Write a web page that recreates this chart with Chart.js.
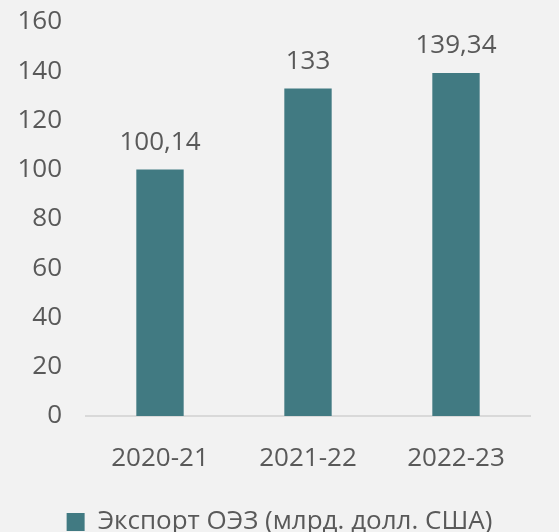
<!DOCTYPE html>
<html><head><meta charset="utf-8">
<script src="https://cdn.jsdelivr.net/npm/chart.js@4"></script>
<style>html,body{margin:0;padding:0;background:#F2F2F2;}#wrap{width:559px;height:532px;}</style>
</head><body><div id="wrap"><canvas id="c" width="559" height="532"></canvas></div>
<script>
const categories = ["2020-21", "2021-22", "2022-23"];
const exportValues = [100.14, 133, 139.34];
const valueLabels = ["100,14", "133", "139,34"];
const seriesName = "Экспорт ОЭЗ (млрд. долл. США)";
const yTicks = [0, 20, 40, 60, 80, 100, 120, 140, 160];

const FONT = "'Open Sans', sans-serif";
const FS = 26;
const TXT = "#595959";
const BAR = "#417A82";

const labelPlugin = {
  id: 'vlabels',
  afterDatasetsDraw(chart) {
    const ctx = chart.ctx;
    const meta = chart.getDatasetMeta(0);
    ctx.save();
    ctx.font = FS + "px " + FONT;
    ctx.fillStyle = TXT;
    ctx.textAlign = "center";
    ctx.textBaseline = "middle";
    meta.data.forEach((bar, i) => {
      ctx.fillText(valueLabels[i], bar.x, bar.y - 27);
    });
    ctx.restore();
  }
};
const bgPlugin = {
  id: 'bg',
  beforeDraw(chart) {
    const ctx = chart.ctx;
    ctx.save(); ctx.fillStyle = "#F2F2F2"; ctx.fillRect(0, 0, chart.width, chart.height); ctx.restore();
  }
};

new Chart(document.getElementById('c'), {
  type: 'bar',
  data: {
    labels: categories,
    datasets: [{
      label: seriesName,
      data: exportValues,
      backgroundColor: BAR,
      barPercentage: 0.32,
      categoryPercentage: 1.0
    }]
  },
  options: {
    responsive: false,
    animation: false,
    layout: { padding: { top: 22, right: 0, left: 0, bottom: -13 } },
    plugins: {
      tooltip: { enabled: false },
      legend: {
        position: 'bottom',
        labels: {
          color: TXT,
          font: { family: FONT, size: 26 },
          boxWidth: 18, boxHeight: 18, padding: 2,
          generateLabels(chart) {
            return [{ text: seriesName, fillStyle: BAR, strokeStyle: BAR, lineWidth: 0, fontColor: TXT }];
          }
        }
      }
    },
    scales: {
      x: {
        grid: { display: false },
        border: { display: true, color: "#D9D9D9", width: 2 },
        ticks: { color: TXT, font: { family: FONT, size: FS }, padding: 19 },
        afterFit(s) { s.height = 91; }
      },
      y: {
        min: 0, max: 160,
        grid: { display: false },
        border: { display: false },
        afterBuildTicks(s) { s.ticks = yTicks.map(v => ({ value: v })); },
        ticks: { color: TXT, font: { family: FONT, size: FS }, padding: 16 },
        afterFit(s) { s.width = 86; s.paddingTop = 0; s.paddingBottom = 0; }
      },
      yr: {
        position: 'right',
        display: true,
        min: 0, max: 160,
        grid: { display: false },
        border: { display: false },
        ticks: { display: false },
        afterFit(s) { s.width = 29; s.paddingTop = 0; s.paddingBottom = 0; }
      }
    }
  },
  plugins: [bgPlugin, labelPlugin]
});
</script>
</body></html>
